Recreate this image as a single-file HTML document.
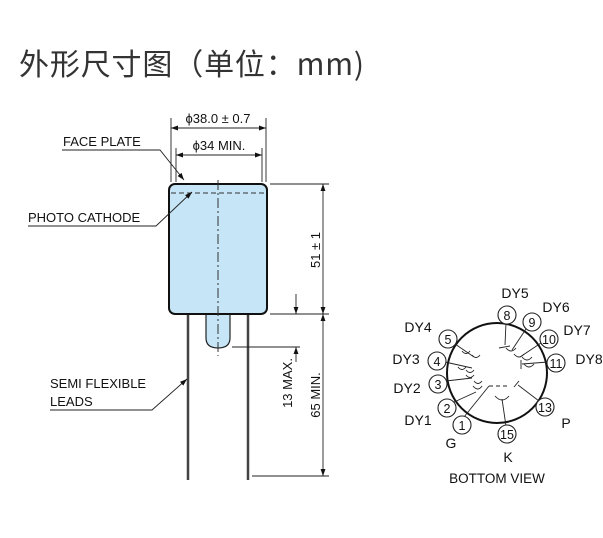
<!DOCTYPE html>
<html><head><meta charset="utf-8"><style>
html,body{margin:0;padding:0;background:#fff;}
svg{display:block;font-family:"Liberation Sans",Arial,sans-serif;}
</style></head><body>
<svg width="603" height="538" viewBox="0 0 603 538" xmlns="http://www.w3.org/2000/svg">
<defs>
<marker id="a" viewBox="0 0 10 10" refX="10" refY="5" markerWidth="8" markerHeight="8" orient="auto-start-reverse"><path d="M0,1.5 L10,5 L0,8.5 z" fill="#111"/></marker>
</defs>
<text x="19" y="75" font-size="30" fill="#333" font-family="'Noto Sans CJK SC','WenQuanYi Zen Hei',sans-serif" textLength="345">外形尺寸图（单位：mm)</text>

<!-- tube -->
<path d="M206,312 L206,338 Q206,348 218,348 Q230,348 230,338 L230,312 Z" fill="#c6e6f7" stroke="#222" stroke-width="1.2"/>
<rect x="169" y="184" width="98" height="130" rx="6" fill="#c6e6f7" stroke="#111" stroke-width="2"/>
<line x1="171" y1="193" x2="265" y2="193" stroke="#333" stroke-width="1" stroke-dasharray="5,3"/>
<line x1="218" y1="180" x2="218" y2="356" stroke="#333" stroke-width="1" stroke-dasharray="10,3,2,3"/>
<line x1="188" y1="315" x2="188" y2="480" stroke="#444" stroke-width="2.5"/>
<line x1="248" y1="315" x2="248" y2="480" stroke="#444" stroke-width="2.5"/>

<g stroke="#222" stroke-width="0.9" fill="none">
<line x1="171" y1="118" x2="171" y2="182"/><line x1="266" y1="118" x2="266" y2="182"/>
<line x1="171" y1="128" x2="266" y2="128" marker-start="url(#a)" marker-end="url(#a)"/>
<line x1="176" y1="148" x2="176" y2="182"/><line x1="262" y1="148" x2="262" y2="182"/>
<line x1="176" y1="155" x2="262" y2="155" marker-start="url(#a)" marker-end="url(#a)"/>
<line x1="270" y1="184" x2="329" y2="184"/>
<line x1="270" y1="314" x2="329" y2="314"/>
<line x1="252" y1="476" x2="329" y2="476"/>
<line x1="232" y1="347" x2="300" y2="347"/>
<line x1="323" y1="184" x2="323" y2="314" marker-start="url(#a)" marker-end="url(#a)"/>
<line x1="323" y1="314" x2="323" y2="476" marker-start="url(#a)" marker-end="url(#a)"/>
<line x1="296" y1="294" x2="296" y2="314" marker-end="url(#a)"/>
<line x1="296" y1="362" x2="296" y2="347" marker-end="url(#a)"/>
<polyline points="62,150 160,150 184,180" marker-end="url(#a)"/>
<polyline points="28,226 156,226 192,192" marker-end="url(#a)"/>
<polyline points="50,410 152,410 187,379" marker-end="url(#a)"/>
</g>
<g font-size="13" fill="#111">
<text x="218" y="123" text-anchor="middle">ϕ38.0 ± 0.7</text>
<text x="219" y="150" text-anchor="middle">ϕ34 MIN.</text>
<text x="63" y="146">FACE PLATE</text>
<text x="28" y="222">PHOTO CATHODE</text>
<text x="50" y="388">SEMI FLEXIBLE</text>
<text x="50" y="406">LEADS</text>
<text transform="translate(320,250) rotate(-90)" text-anchor="middle">51 ± 1</text>
<text transform="translate(320,395) rotate(-90)" text-anchor="middle">65 MIN.</text>
<text transform="translate(292,383) rotate(-90)" text-anchor="middle">13 MAX.</text>
</g>

<!-- bottom view -->
<circle cx="497" cy="373" r="50" fill="none" stroke="#111" stroke-width="2"/>
<g stroke="#222" stroke-width="0.9" fill="none">
<line x1="464" y1="417" x2="489" y2="386"/><line x1="489" y1="386" x2="510" y2="386" stroke-dasharray="4,3"/>
<line x1="506" y1="426" x2="502" y2="399"/><path d="M495,396 Q502,404 509,396"/>
<line x1="539" y1="401" x2="518" y2="385"/><line x1="514" y1="387" x2="519" y2="381"/>
<line x1="452" y1="403" x2="476" y2="392"/><path d="M473,386 Q478,392 482,386"/>
<line x1="446" y1="381" x2="472" y2="378"/><path d="M466,375 Q470,380 474,375"/><path d="M474,381 Q478,386 482,381"/>
<line x1="445" y1="362" x2="472" y2="368"/><path d="M458,367 Q462,372 466,367"/><path d="M466,370 Q470,375 474,370"/>
<line x1="455" y1="344" x2="474" y2="357"/><path d="M462,351 Q466,356 470,351"/><path d="M472,355 Q476,360 480,355"/>
<line x1="506" y1="323" x2="505" y2="345"/><line x1="499" y1="348" x2="510" y2="346"/>
<line x1="526" y1="329" x2="512" y2="350"/><path d="M506,348 Q511,354 516,348"/>
<line x1="541" y1="343" x2="520" y2="357"/><path d="M514,354 Q519,360 524,354"/><path d="M522,357 Q527,363 532,357"/>
<line x1="548" y1="362" x2="522" y2="364"/><line x1="521" y1="360" x2="521" y2="369"/><path d="M524,364 Q529,370 534,364"/>
</g>
<g fill="#fff" stroke="#222" stroke-width="1.1">
<circle cx="507" cy="315" r="9"/><circle cx="532" cy="322" r="9"/><circle cx="549" cy="339" r="9"/><circle cx="556" cy="363" r="9"/>
<circle cx="545" cy="407" r="9"/><circle cx="507" cy="434" r="9"/><circle cx="462" cy="425" r="9"/><circle cx="447" cy="408" r="9"/>
<circle cx="438" cy="384" r="9"/><circle cx="437" cy="361" r="9"/><circle cx="448" cy="339" r="9"/>
</g>
<g font-size="12.5" fill="#111" text-anchor="middle">
<text x="507" y="320">8</text><text x="532" y="327">9</text><text x="549" y="344">10</text><text x="556" y="368">11</text>
<text x="545" y="412">13</text><text x="507" y="439">15</text><text x="462" y="430">1</text><text x="447" y="413">2</text>
<text x="438" y="389">3</text><text x="437" y="366">4</text><text x="448" y="344">5</text>
</g>
<g font-size="14" fill="#111" text-anchor="middle">
<text x="515" y="298">DY5</text><text x="556" y="312">DY6</text><text x="577" y="335">DY7</text><text x="589" y="364">DY8</text>
<text x="566" y="428">P</text><text x="508" y="462">K</text><text x="451" y="448">G</text>
<text x="418" y="425">DY1</text><text x="407" y="393">DY2</text><text x="406" y="364">DY3</text><text x="418" y="332">DY4</text>
<text x="497" y="483" font-size="13.5">BOTTOM VIEW</text>
</g>
</svg>
</body></html>
